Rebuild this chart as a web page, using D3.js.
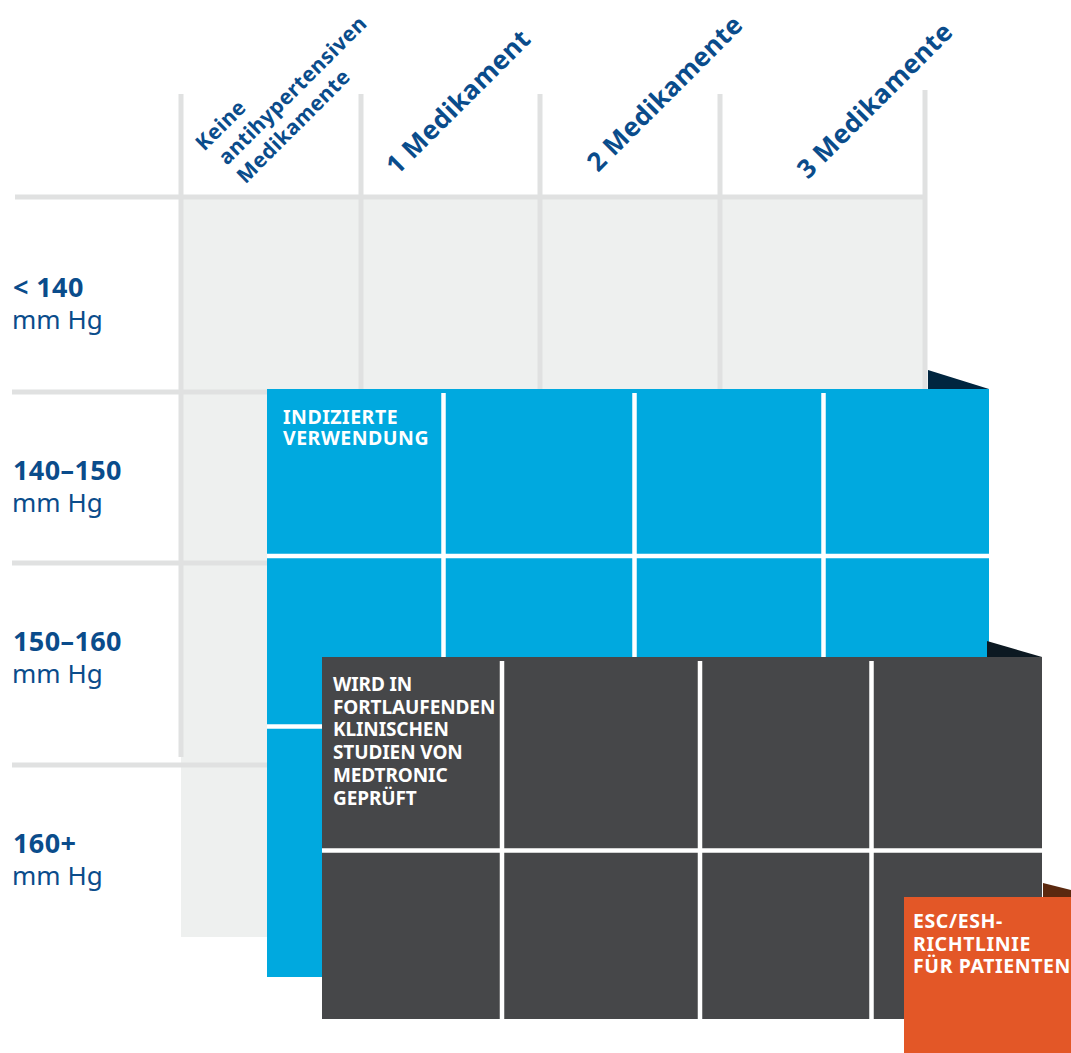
<!DOCTYPE html>
<html>
<head>
<meta charset="utf-8">
<script src="https://cdn.jsdelivr.net/npm/d3@7"></script>
<style>
  html, body { margin: 0; padding: 0; background: #ffffff; }
  svg { display: block; }
  text { font-family: "Noto Sans", "Open Sans", sans-serif; }
</style>
</head>
<body>
<svg id="chart" width="1071" height="1053"></svg>
<script>
// ---------- DATA ----------
const columns = [
  ["Keine", "antihypertensiven", "Medikamente"],
  ["1 Medikament"],
  ["2 Medikamente"],
  ["3 Medikamente"]
];
const rows = ["< 140", "140\u2013150", "150\u2013160", "160+"];
const rowUnit = "mm Hg";
const panelNames = ["indicated", "trials", "guideline"];
const panelLabels = [
  ["INDIZIERTE", "VERWENDUNG"],
  ["WIRD IN", "FORTLAUFENDEN", "KLINISCHEN", "STUDIEN VON", "MEDTRONIC", "GEPR\u00dcFT"],
  ["ESC/ESH-", "RICHTLINIE", "F\u00dcR PATIENTEN"]
];

// ---------- LAYOUT ----------
const colEdges = [181, 361, 540, 720, 925];
const rowEdges = [197, 392, 563, 765, 937];
const rowLabelShift = [100, 88, 88, 88]; // baseline of the bold line from row top
const panels = [
  { fill: "#00a9df", shadow: "#00253f", x0: 267, y0: 389, x1: 989, y1: 977,
    vx: [443.5, 634.5, 823.5], hy: [556, 726.5], vStart: 393, shadowX: 928, shadowTop: 370,
    label: { x: 283, y: 424, size: 19.5, lh: 21, ls: 0.5 } },
  { fill: "#464749", shadow: "#0c1922", x0: 322, y0: 657, x1: 1042, y1: 1019,
    vx: [502, 700, 871.5], hy: [850.5], vStart: 661, shadowX: 987, shadowTop: 641,
    label: { x: 333, y: 691, size: 19, lh: 22.7, ls: -0.1 } },
  { fill: "#e35727", shadow: "#5b290f", x0: 904, y0: 897, x1: 1100, y1: 1070,
    vx: [], hy: [], vStart: 901, shadowX: 1043, shadowTop: 883,
    label: { x: 913, y: 928, size: 19.5, lh: 22.5, ls: 0.6 } }
];
const headerAnchors = [[227, 166], [397, 176], [598, 173], [808, 180]];

const labelBlue = "#0a4c8b";
const gridFill = "#eef0ef";
const gridLine = "#e0e1e1";

const svg = d3.select("#chart");
const x = d3.scaleLinear().domain(d3.range(colEdges.length)).range(colEdges);
const y = d3.scaleLinear().domain(d3.range(rowEdges.length)).range(rowEdges);

// grey background
svg.append("rect")
  .attr("x", x(0)).attr("y", y(0))
  .attr("width", x(4) - x(0)).attr("height", y(4) - y(0))
  .attr("fill", gridFill);

// horizontal grid lines
svg.selectAll("line.h").data(d3.range(4)).join("line")
  .attr("class", "h")
  .attr("x1", (d) => d === 0 ? 15 : 12).attr("x2", x(4))
  .attr("y1", (d) => y(d)).attr("y2", (d) => y(d))
  .attr("stroke", gridLine).attr("stroke-width", 5);

// vertical grid lines
svg.selectAll("line.v").data(d3.range(5)).join("line")
  .attr("class", "v")
  .attr("x1", (d) => x(d)).attr("x2", (d) => x(d))
  .attr("y1", (d) => d === 4 ? 90 : 94)
  .attr("y2", (d) => d === 4 ? 389 : y(3) - 8)
  .attr("stroke", gridLine).attr("stroke-width", 5);

// column headers (rotated)
columns.forEach((lines, i) => {
  const [ax, ay] = headerAnchors[i];
  const multi = lines.length > 1;
  const t = svg.append("text")
    .attr("transform", `translate(${ax},${ay}) rotate(-45)`)
    .attr("fill", labelBlue)
    .attr("font-weight", 700)
    .attr("font-size", multi ? 21 : 26)
    .attr("letter-spacing", multi ? 0.4 : 0.4);
  lines.forEach((ln, j) => {
    t.append("tspan")
      .attr("x", multi ? (j === 0 ? -6 : 0) : 0)
      .attr("y", multi ? (j - 1) * 26 : 0)
      .text(ln);
  });
});

// row labels
rows.forEach((r, i) => {
  const base = y(i) + rowLabelShift[i];
  svg.append("text")
    .attr("x", 13).attr("y", base)
    .attr("fill", labelBlue).attr("font-weight", 700).attr("font-size", 27)
    .attr("letter-spacing", 0.4)
    .text(r);
  svg.append("text")
    .attr("x", 12).attr("y", base + 32)
    .attr("fill", labelBlue).attr("font-weight", 400).attr("font-size", 26)
    .text(rowUnit);
});

// overlay panels
panels.forEach((p, i) => {
  const g = svg.append("g").attr("class", "panel " + panelNames[i]);
  g.append("path")
    .attr("d", `M${p.shadowX},${p.shadowTop} L${p.x1},${p.y0} L${p.shadowX},${p.y0} Z`)
    .attr("fill", p.shadow);
  g.append("rect")
    .attr("x", p.x0).attr("y", p.y0)
    .attr("width", p.x1 - p.x0).attr("height", p.y1 - p.y0)
    .attr("fill", p.fill);
  g.selectAll("line.pv").data(p.vx).join("line")
    .attr("x1", (d) => d).attr("x2", (d) => d)
    .attr("y1", p.vStart).attr("y2", p.y1)
    .attr("stroke", "#ffffff").attr("stroke-width", 4.5);
  g.selectAll("line.ph").data(p.hy).join("line")
    .attr("x1", p.x0).attr("x2", p.x1)
    .attr("y1", (d) => d).attr("y2", (d) => d)
    .attr("stroke", "#ffffff").attr("stroke-width", 4.5);
  const t = g.append("text")
    .attr("fill", "#ffffff").attr("font-weight", 700)
    .attr("font-size", p.label.size)
    .attr("letter-spacing", p.label.ls);
  panelLabels[i].forEach((ln, j) => {
    t.append("tspan").attr("x", p.label.x).attr("y", p.label.y + j * p.label.lh).text(ln);
  });
});
</script>
</body>
</html>
